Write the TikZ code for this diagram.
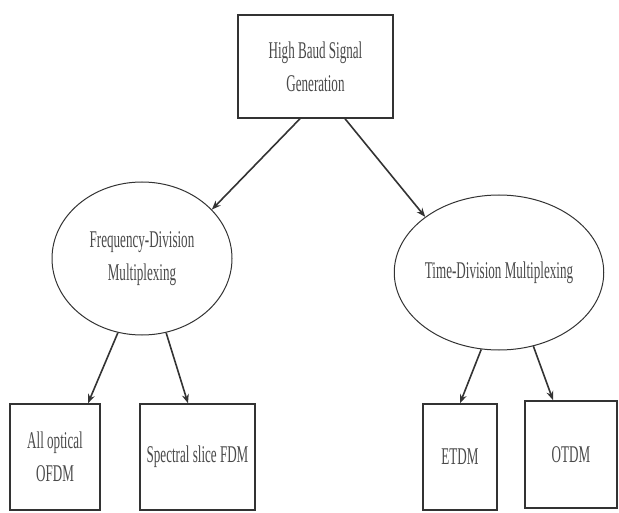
\documentclass[tikz,border=0pt]{standalone}
\usepackage{fontspec}
\setmainfont[FakeStretch=0.545]{Liberation Serif}
\usetikzlibrary{shapes.geometric,arrows.meta}
\definecolor{linec}{HTML}{333333}
\definecolor{textc}{HTML}{4A4A4A}
\tikzset{
  boxn/.style={draw=linec,line width=1.4pt,rectangle,inner sep=0pt,align=center,text=textc,
    font=\fontsize{24}{33}\selectfont},
  elln/.style={draw=linec,line width=1pt,ellipse,inner sep=0pt,align=center,text=textc,
    font=\fontsize{24}{33}\selectfont},
  arr/.style={draw=linec,line width=1.6pt,-{Stealth[length=9pt,width=7pt]}}
}
\begin{document}
\begin{tikzpicture}[x=1pt,y=-1pt]
\useasboundingbox (0,0) rectangle (619,513);
\node[boxn,minimum width=155pt,minimum height=103pt] (top) at (315.5,66.5) {High Baud Signal\\Generation};
\node[elln,minimum width=180pt,minimum height=153pt] (fdm) at (142,258.5) {Frequency-Division\\Multiplexing};
\node[elln,minimum width=182pt,minimum height=155pt] (tdm) at (499,272.5) {Time-Division Multiplexing};
\node[boxn,minimum width=90pt,minimum height=106pt] (aoo) at (55,457) {All optical\\OFDM};
\node[boxn,minimum width=115pt,minimum height=106pt] (ssf) at (197.5,457) {Spectral slice FDM};
\node[boxn,minimum width=74pt,minimum height=106pt] (etdm) at (460,457) {ETDM};
\node[boxn,line width=1.8pt,minimum width=92pt,minimum height=107pt] (otdm) at (571,454.5) {OTDM};
\draw[arr] ([xshift=-15.5pt]top.south) -- (fdm.35.5);
\draw[arr] ([xshift=29.5pt]top.south) -- (tdm.143);
\draw[arr] (fdm.252.6) -- ([xshift=33pt]aoo.north);
\draw[arr] (fdm.288.8) -- ([xshift=-9.5pt]ssf.north);
\draw[arr] (tdm.257.9) -- (etdm.north);
\draw[arr] (tdm.295.1) -- ([xshift=-18pt]otdm.north);
\end{tikzpicture}
\end{document}
